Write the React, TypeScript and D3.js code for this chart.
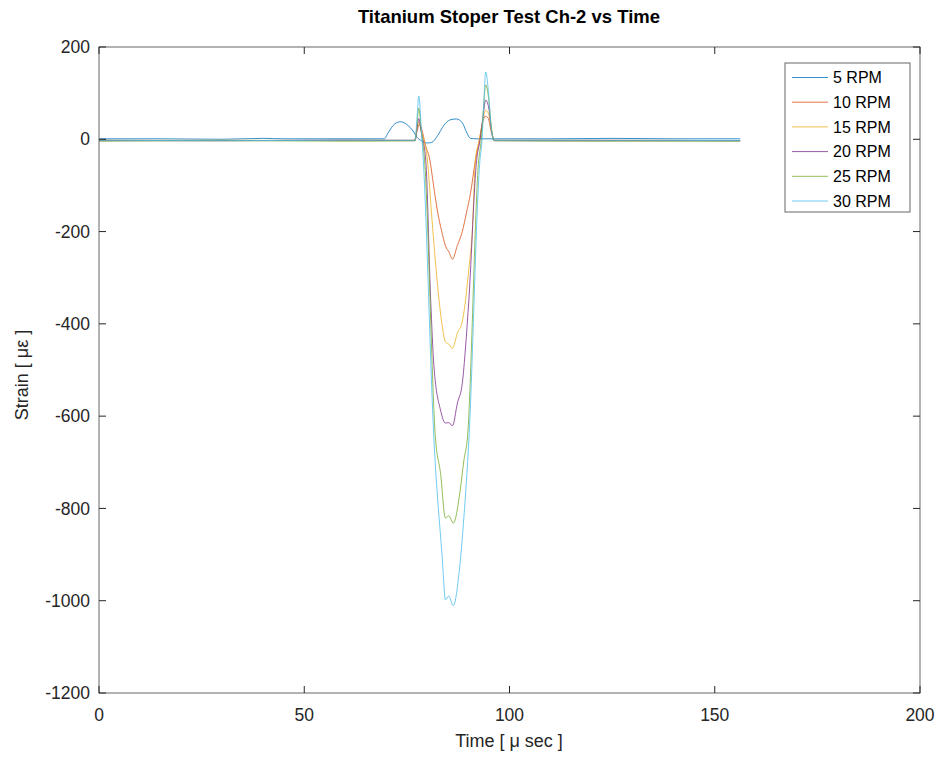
import React from 'react';
import * as d3 from 'd3';

type Pt = [number, number];

// time [µs], strain [µε]
const rpm5: Pt[] = [
  [0, 1], [15, 1], [30, 0], [40, 2], [45, 1], [60, 1], [69.5, 1], [70.5, 15], [72, 33], [73.5, 38],
  [75, 32], [76.5, 18], [77.5, 4], [78.5, -3], [80, -8], [81, -7], [82.5, 8], [84, 30],
  [85.5, 42], [87, 44], [88.5, 36], [89.5, 16], [90.5, 2], [92, 1], [110, 1], [125, 2],
  [140, 1], [156.2, 1],
];
const rpm10: Pt[] = [
  [0, -2], [30, -3], [60, -2], [76.8, -2], [77.5, 18], [78, 32], [78.6, 22], [79.5, -12],
  [80.6, -45], [81.5, -100], [82.4, -153], [83.5, -200], [84.4, -231], [85.3, -245],
  [86.1, -260], [87.3, -230], [88.5, -200], [89.5, -160], [90.5, -117], [91.7, -45],
  [92.6, -5], [93.3, 30], [94.1, 50], [94.8, 46], [95.5, 18], [96.3, -2], [120, -2],
  [156.2, -3],
];
const rpm15: Pt[] = [
  [0, -3], [30, -2], [60, -3], [76.9, -3], [77.4, 20], [77.9, 38], [78.5, 18], [80, -45],
  [81, -160], [82.2, -290], [83.4, -391], [84.4, -439], [85.3, -445], [86.1, -453],
  [87.3, -420], [88.5, -395], [89.3, -348], [90.1, -280], [90.9, -204], [91.7, -45],
  [92.6, -3], [93.4, 35], [94.2, 63], [94.9, 55], [95.7, 15], [96.4, -3], [120, -3],
  [156.2, -3],
];
const rpm20: Pt[] = [
  [0, -3], [30, -3], [60, -2], [77, -3], [77.5, 25], [77.9, 45], [78.5, 15], [79.6, -45],
  [80.8, -348], [81.6, -493], [83.2, -587], [84.4, -615], [85.2, -614], [86.1, -621],
  [87.3, -572], [88.5, -529], [89.3, -450], [90.1, -348], [92, -45], [92.8, -3],
  [93.5, 45], [94.2, 85], [94.9, 70], [95.6, 20], [96.3, -3], [120, -3], [156.2, -3],
];
const rpm25: Pt[] = [
  [0, -4], [30, -3], [60, -4], [77, -3], [77.5, 35], [77.9, 67], [78.5, 20], [79.3, -45],
  [82, -652], [83.2, -724], [84.4, -821], [85.2, -816], [86.3, -832], [88, -760],
  [88.9, -695], [89.7, -652], [92.5, -45], [93.1, -3], [93.6, 60], [94.2, 118],
  [94.9, 90], [95.6, 25], [96.2, -3], [120, -4], [156.2, -4],
];
const rpm30: Pt[] = [
  [0, -2], [30, -3], [60, -2], [77, -2], [77.5, 50], [77.9, 94], [78.5, 25], [79, -45],
  [81.6, -652], [83.6, -905], [84.4, -998], [85.2, -990], [86.3, -1011], [87.7, -941],
  [88.9, -818], [90.1, -652], [92.8, -45], [93.3, -3], [93.7, 70], [94.2, 146],
  [94.8, 110], [95.5, 30], [96.1, -2], [120, -2], [156.2, -3],
];

const seriesNames = ['5 RPM', '10 RPM', '15 RPM', '20 RPM', '25 RPM', '30 RPM'];
const seriesData = [rpm5, rpm10, rpm15, rpm20, rpm25, rpm30];
const colors = ['#0072bd', '#d95319', '#edb120', '#7e2f8e', '#77ac30', '#4dbeee'];
const xTicks = [0, 50, 100, 150, 200];
const yTicks = [-1200, -1000, -800, -600, -400, -200, 0, 200];

const W = 940;
const H = 757;
const left = 99;
const right = 920;
const top = 47;
const bottom = 693;
const font = 'Liberation Sans, Arial, Helvetica, sans-serif';
const ink = '#262626';

export default function App() {
  const x = d3.scaleLinear().domain([0, 200]).range([left, right]);
  const y = d3.scaleLinear().domain([-1200, 200]).range([bottom, top]);
  const line = d3.line<Pt>().x(d => x(d[0])).y(d => y(d[1])).curve(d3.curveMonotoneX);
  const tickLen = 7;

  return (
    <svg width={W} height={H} style={{ position: 'absolute', left: 0, top: 0, background: '#fff' }}
      fontFamily={font}>
      <defs>
        <clipPath id="plot">
          <rect x={left} y={top} width={right - left} height={bottom - top} />
        </clipPath>
      </defs>

      <g clipPath="url(#plot)">
        {seriesData.map((s, i) => (
          <path key={i} d={line(s) || ''} fill="none" stroke={colors[i]} strokeWidth={1}
            strokeOpacity={0.8} strokeLinejoin="round" />
        ))}
      </g>

      <rect x={left} y={top} width={right - left} height={bottom - top} fill="none"
        stroke="#666" strokeWidth={1} />

      {xTicks.map(t => (
        <g key={'x' + t}>
          <line x1={x(t)} x2={x(t)} y1={bottom} y2={bottom - tickLen} stroke={ink} />
          <line x1={x(t)} x2={x(t)} y1={top} y2={top + tickLen} stroke={ink} />
          <text x={x(t)} y={721} textAnchor="middle" fontSize={17.5} fill={ink}>{t}</text>
        </g>
      ))}
      {yTicks.map(t => (
        <g key={'y' + t}>
          <line x1={left} x2={left + tickLen} y1={y(t)} y2={y(t)} stroke={ink} />
          <line x1={right} x2={right - tickLen} y1={y(t)} y2={y(t)} stroke={ink} />
          <text x={90} y={y(t)} dy="0.35em" textAnchor="end" fontSize={17.5} fill={ink}>{t}</text>
        </g>
      ))}

      <text x={509} y={23} textAnchor="middle" fontSize={18.5} fontWeight="bold" fill="#000">
        Titanium Stoper Test Ch-2 vs Time
      </text>
      <text x={509} y={747} textAnchor="middle" fontSize={18} fill={ink}>Time [ μ sec ]</text>
      <text transform="translate(28,375) rotate(-90)" textAnchor="middle" fontSize={18} fill={ink}>
        Strain [ με ]
      </text>

      <g>
        <rect x={785} y={63} width={125} height={149} fill="#fff" stroke="#666" strokeWidth={1} />
        {seriesNames.map((n, i) => {
          const ly = 77.5 + i * 24.7;
          return (
            <g key={n}>
              <line x1={792} x2={828} y1={ly} y2={ly} stroke={colors[i]} strokeOpacity={0.8}
                strokeWidth={1} />
              <text x={833} y={ly} dy="0.35em" fontSize={16} fill="#000">{n}</text>
            </g>
          );
        })}
      </g>
    </svg>
  );
}
